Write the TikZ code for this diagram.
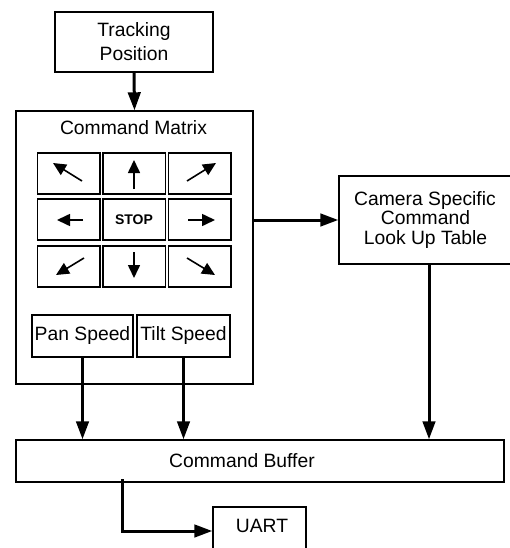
\documentclass[tikz,border=0pt]{standalone}
\usepackage{fontspec}
\setmainfont{Liberation Sans}
\usetikzlibrary{arrows.meta,calc}
\begin{document}
\begin{tikzpicture}[x=1pt,y=-1pt,
  box/.style={draw,line width=1.4pt,inner sep=0pt,align=center,
    font=\fontsize{19.3}{19.5}\selectfont},
  cell/.style={draw,line width=1.5pt,inner sep=0pt,minimum width=62.5pt,minimum height=41pt},
  txt/.style={inner sep=0pt,align=center,font=\fontsize{19.3}{19.5}\selectfont},
  flow/.style={line width=3pt,-{Triangle[length=18pt,width=12.5pt]}},
  dir/.style={line width=1.6pt,-{Triangle[length=13pt,width=12pt]}}]
\useasboundingbox (0,0) rectangle (509,548);

% top-level blocks
\node[box,minimum width=158pt,minimum height=60pt,
  font=\fontsize{19.3}{24}\selectfont] (trk) at (134,42) {Tracking\\Position};
\node[box,minimum width=237pt,minimum height=273pt] (mat) at (134.5,247.5) {};
\node[txt] (mattitle) at (133.5,128) {Command Matrix};

% direction pad
\node[cell] (nw) at (68.5,173.5) {};
\node[cell] (n)  at (134,173.5) {};
\node[cell] (ne) at (199.5,173.5) {};
\node[cell] (w)  at (68.5,219.5) {};
\node[cell,font=\fontsize{14}{14}\selectfont\bfseries] (stop) at (134,219.5) {STOP};
\node[cell] (e)  at (199.5,219.5) {};
\node[cell] (sw) at (68.5,266.5) {};
\node[cell] (s)  at (134,266.5) {};
\node[cell] (se) at (199.5,266.5) {};

\draw[dir] ([shift={(13.5,7.5)}]nw.center) -- ([shift={(-15.5,-10.5)}]nw.center);
\draw[dir] ([shift={(0,15.5)}]n.center) -- ([shift={(0,-13.5)}]n.center);
\draw[dir] ([shift={(-12.5,7.5)}]ne.center) -- ([shift={(16.5,-10.5)}]ne.center);
\draw[dir] ([shift={(14.5,0.5)}]w.center) -- ([shift={(-11.5,0.5)}]w.center);
\draw[dir] ([shift={(-11.5,0.5)}]e.center) -- ([shift={(15.5,0.5)}]e.center);
\draw[dir] ([shift={(15.5,-8.5)}]sw.center) -- ([shift={(-12.5,8.5)}]sw.center);
\draw[dir] ([shift={(0,-14.5)}]s.center) -- ([shift={(0,11.5)}]s.center);
\draw[dir] ([shift={(-12.5,-8.5)}]se.center) -- ([shift={(15.5,8.5)}]se.center);

% speed fields
\node[box,minimum width=101pt,minimum height=42pt] (pan) at (82.5,336) {Pan Speed};
\node[box,minimum width=93pt,minimum height=42pt] (tilt) at (183.5,336) {Tilt Speed};

% right-hand and lower blocks
\node[box,minimum width=173pt,minimum height=88pt] (cam) at (425.5,220)
  {\hspace*{-1pt}Camera Specific\\Command\\Look Up Table};
\node[box,minimum width=488pt,minimum height=42pt] (buf) at (260,461) {};
\node[txt] (buftext) at (242,461) {Command Buffer};
\node[box,minimum width=93pt,minimum height=45pt] (uart) at (259.5,529.5) {};
\node[txt] (uarttext) at (262,526) {UART};
\coordinate (bufout) at (122,479);

% connectors
\draw[flow] (trk.south) -- (mat.north);
\draw[flow] (mat.east |- cam.west) -- (cam.west);
\draw[flow] (pan.south) -- (pan.south |- buf.north);
\draw[flow] (tilt.south) -- (tilt.south |- buf.north);
\draw[flow] ([xshift=3.5pt]cam.south) -- ([xshift=3.5pt]cam.south |- buf.north);
\draw[flow] (bufout) |- ([yshift=-1.5pt]uart.west);
\end{tikzpicture}
\end{document}
